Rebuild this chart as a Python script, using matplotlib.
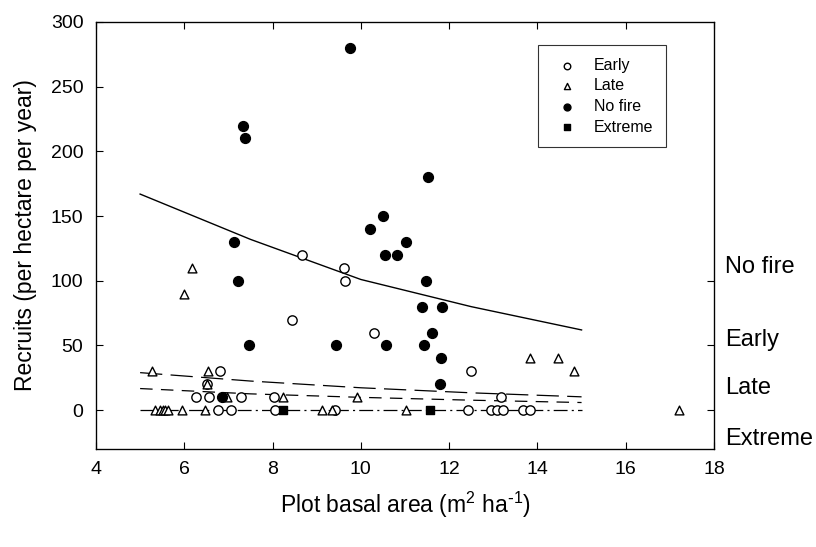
import numpy as np
import matplotlib
matplotlib.use("Agg")
import matplotlib.pyplot as plt

plt.rcParams['font.family'] = ['Liberation Sans', 'DejaVu Sans']
plt.rcParams['mathtext.default'] = 'regular'
plt.rcParams['lines.scale_dashes'] = False

# observed plots
nofire_x = [9.75, 7.32, 7.37, 11.53, 10.51, 10.21, 7.13, 11.02, 10.55, 10.83, 7.21, 11.48,
            11.39, 11.84, 11.61, 7.47, 9.44, 10.56, 11.43, 11.82, 11.79, 6.85]
nofire_y = [280, 220, 210, 180, 150, 140, 130, 130, 120, 120, 100, 100,
            80, 80, 60, 50, 50, 50, 50, 40, 20, 10]

early_x = [8.67, 9.61, 9.65, 8.45, 10.29, 6.81, 12.5, 6.51, 6.26, 6.57, 7.28, 8.04, 13.17,
           6.77, 7.06, 8.06, 9.41, 12.42, 12.95, 13.08, 13.21, 13.68, 13.83]
early_y = [120, 110, 100, 70, 60, 30, 30, 20, 10, 10, 10, 10, 10,
           0, 0, 0, 0, 0, 0, 0, 0, 0, 0]

late_x = [6.17, 6.0, 5.27, 6.53, 13.83, 14.47, 14.82, 6.51, 6.96, 8.24, 9.92,
          5.34, 5.45, 5.51, 5.56, 5.64, 5.94, 6.47, 9.13, 9.34, 11.02, 17.2]
late_y = [110, 90, 30, 30, 40, 40, 30, 20, 10, 10, 10,
          0, 0, 0, 0, 0, 0, 0, 0, 0, 0, 0]

extreme_x = [8.23, 11.57]
extreme_y = [0, 0]

# fitted curves
fit_x = [5, 7.5, 10, 12.5, 15]
fit_nofire = [167, 132, 101, 80, 62]
fit_early = [29, 22.5, 17.3, 13.4, 10.3]
fit_late = [16.7, 12.6, 9.9, 7.7, 5.9]
fit_extreme = [0, 0, 0, 0, 0]

fig = plt.figure(figsize=(8.16, 5.47), dpi=100)
ax = fig.add_axes([0.1176, 0.1792, 0.7574, 0.7806])

ax.plot(fit_x, fit_nofire, color='black', lw=1.0, zorder=2)
ax.plot(fit_x, fit_early, color='black', lw=0.9, dashes=(16, 6), zorder=2)
ax.plot(fit_x, fit_late, color='black', lw=0.9, dashes=(9, 6), zorder=2)
ax.plot(fit_x, fit_extreme, color='black', lw=0.9, dashes=(10, 3, 1.5, 3), zorder=2)

ax.scatter(early_x, early_y, s=45, marker='o', facecolor='white', edgecolor='black',
           linewidth=1.0, zorder=3, label='Early')
ax.scatter(late_x, late_y, s=40, marker='^', facecolor='white', edgecolor='black',
           linewidth=1.0, zorder=3, label='Late')
ax.scatter(nofire_x, nofire_y, s=50, marker='o', color='black', zorder=4, label='No fire')
ax.scatter(extreme_x, extreme_y, s=40, marker='s', color='black', zorder=4, label='Extreme')

ax.set_xlim(4, 18)
ax.set_ylim(-30, 300)
ax.set_xticks(np.arange(4, 19, 2))
ax.set_yticks(np.arange(0, 301, 50))
ax.tick_params(direction='in', length=5, width=0.8, labelsize=14, top=True, pad=9)
for s in ax.spines.values():
    s.set_linewidth(0.9)

# right-hand ticks without labels
ax2 = ax.twinx()
ax2.set_ylim(ax.get_ylim())
ax2.set_yticks([0, 50, 100])
ax2.set_yticklabels([])
ax2.tick_params(direction='in', length=5, width=0.8)

ax.set_xlabel(r'Plot basal area (m$^2$ ha$^{\text{-}1}$)', fontsize=16.5, labelpad=8)
ax.set_ylabel('Recruits (per hectare per year)', fontsize=16.5, labelpad=10)

for lab, yv in [('No fire', 111), ('Early', 54), ('Late', 17), ('Extreme', -22)]:
    ax.text(18.25, yv, lab, fontsize=17, va='center', ha='left', clip_on=False)

leg = ax.legend(loc='upper left', bbox_to_anchor=(0.715, 0.946), fontsize=11.5,
                frameon=True, fancybox=False, edgecolor='black', markerscale=0.7,
                handletextpad=0.7, borderpad=0.8, labelspacing=0.35, borderaxespad=0)
leg.get_frame().set_linewidth(0.8)

fig.savefig('out.png', dpi=100)
